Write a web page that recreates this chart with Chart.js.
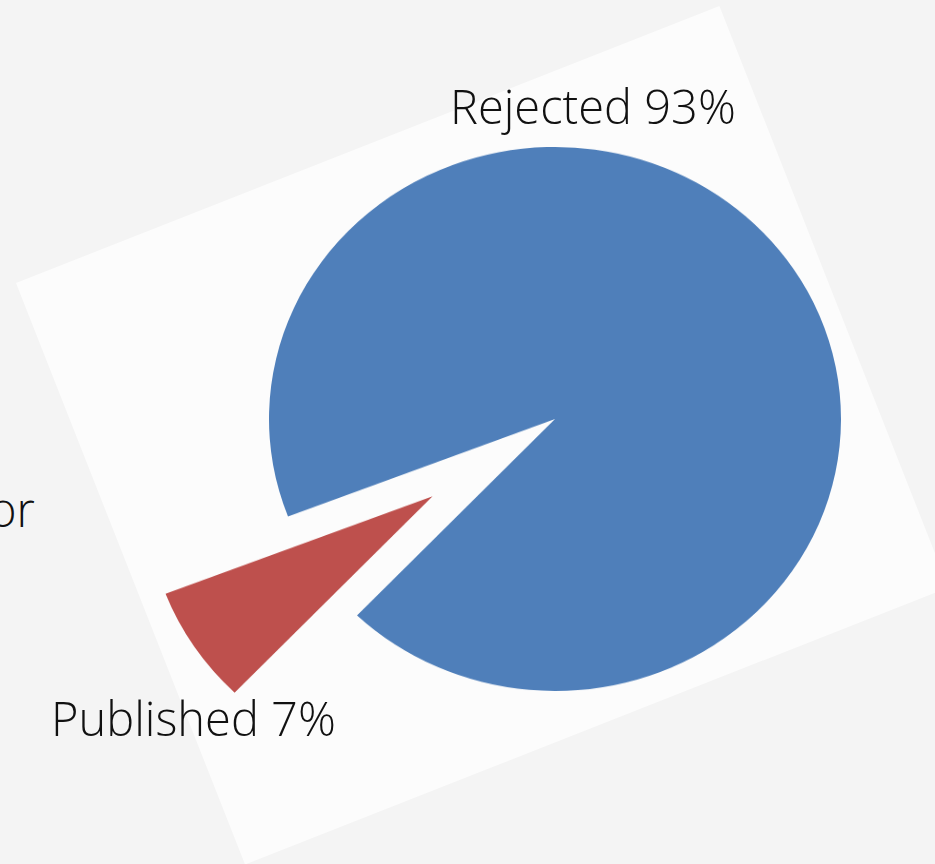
<!DOCTYPE html>
<html>
<head>
<meta charset="utf-8">
<script src="https://cdn.jsdelivr.net/npm/chart.js@4.4.1/dist/chart.umd.min.js"></script>
<style>
  html, body {
    margin: 0;
    padding: 0;
    width: 935px;
    height: 864px;
    overflow: hidden;
    background: #f4f4f4;
    font-family: "Open Sans", "Noto Sans", sans-serif;
    font-weight: 300;
    color: #111;
  }
  #card {
    position: absolute;
    left: 16px;
    top: 283px;
    width: 756px;
    height: 625px;
    background: #fcfcfc;
    transform-origin: 0 0;
    transform: rotate(-21.5deg);
  }
  #wrap {
    position: absolute;
    left: 0;
    top: 0;
    width: 935px;
    height: 864px;
    transform-origin: 555px 419px;
    transform: scaleY(0.951);
  }
  .lbl {
    position: absolute;
    font-size: 47px;
    line-height: 1;
    white-space: nowrap;
  }
</style>
</head>
<body>
<div id="card"></div>
<div class="lbl" id="orText" style="left:-11px; top:486px;">or</div>
<div id="wrap"><canvas id="pieChart" width="935" height="864"></canvas></div>
<div class="lbl" id="lbl0" style="left:450px; top:83px;"></div>
<div class="lbl" id="lbl1" style="left:51px; top:695px;"></div>
<script>
const categories = ["Rejected", "Published"];
const shares = [93, 7];
const sliceColors = ["#4f7fba", "#be504d"];
const sliceExplode = [0, 147];

// labels under the slices
categories.forEach((c, i) => {
  document.getElementById("lbl" + i).textContent = c + " " + shares[i] + "%";
});

// pull a slice out along its middle angle, keeping its size
// (chart.js offset narrows thin slices, so do it by hand)
const explodePlugin = {
  id: "explode",
  afterDatasetUpdate(chart, args) {
    const meta = chart.getDatasetMeta(args.index);
    meta.data.forEach((arc, i) => {
      const d = sliceExplode[i];
      if (!d) return;
      const mid = (arc.startAngle + arc.endAngle) / 2;
      arc.x += Math.cos(mid) * d;
      arc.y += Math.sin(mid) * d;
    });
  },
};

const ctx = document.getElementById("pieChart");

var pieChart = new Chart(ctx, {
  type: "pie",
  data: {
    labels: categories,
    datasets: [
      {
        data: shares,
        backgroundColor: sliceColors,
        borderWidth: 0,
      },
    ],
  },
  options: {
    responsive: false,
    animation: false,
    rotation: 249,
    radius: 286,
    layout: {
      padding: { left: 175, right: 0, top: 0, bottom: 26 },
    },
    plugins: {
      legend: { display: false },
      tooltip: { enabled: false },
    },
  },
  plugins: [explodePlugin],
});
</script>
</body>
</html>
